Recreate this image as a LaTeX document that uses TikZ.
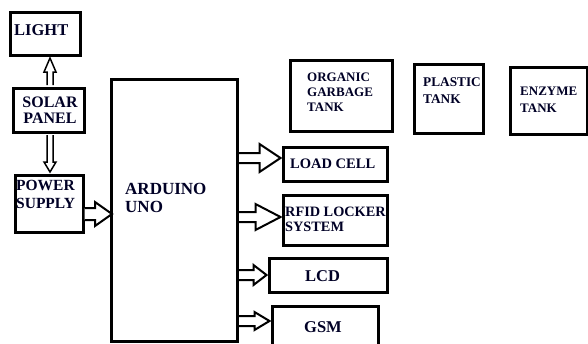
\documentclass[tikz,border=0pt]{standalone}
\usepackage{fontspec}
\setmainfont{Liberation Serif}
\usetikzlibrary{calc}
\tikzset{
  blk/.style={draw=black, line width=3pt, inner sep=0pt, fill=white},
  lbl/.style={font=\bfseries, inner sep=0pt, align=left, text=black!85!blue},
  hol/.style={draw=black, line width=2pt, fill=white, line join=miter},
}
% horizontal hollow arrow: start, tip, shaft half width, head half width, head length
\newcommand\harr[5]{%
  \draw[hol] ($(#1)+(0,-#3)$) -- ($(#2)+(-#5,-#3)$) -- ($(#2)+(-#5,-#4)$) -- (#2)
     -- ($(#2)+(-#5,#4)$) -- ($(#2)+(-#5,#3)$) -- ($(#1)+(0,#3)$);}
% vertical hollow arrow: start, tip, shaft half width, head half width, head length (signed, along direction)
\newcommand\varr[5]{%
  \draw[hol, line width=1.5pt] ($(#1)+(-#3,0)$) -- ($(#2)+(-#3,-#5)$) -- ($(#2)+(-#4,-#5)$) -- (#2)
     -- ($(#2)+(#4,-#5)$) -- ($(#2)+(#3,-#5)$) -- ($(#1)+(#3,0)$);}
\begin{document}
\begin{tikzpicture}[x=1pt,y=-1pt]
\useasboundingbox (0,0) rectangle (588,343);
\clip (0,0) rectangle (588,343);
\fill[white] (0,0) rectangle (588,343);
% boxes
\node[blk, minimum width=70pt, minimum height=43pt] (light) at (45,33.5) {};
\node[blk, minimum width=71pt, minimum height=44pt] (solar) at (48.5,110) {};
\node[blk, minimum width=68pt, minimum height=57pt] (power) at (49,203.5) {};
\node[blk, line width=2pt, minimum width=125pt, minimum height=261pt] (ard) at (174.5,210.5) {};
\node[blk, minimum width=102pt, minimum height=71pt] (org) at (341,96) {};
\node[blk, minimum width=69pt, minimum height=69pt] (pla) at (448.5,98.5) {};
\node[blk, minimum width=77pt, minimum height=67pt] (enz) at (548.5,100.5) {};
\node[blk, minimum width=104pt, minimum height=34pt] (load) at (335,164.5) {};
\node[blk, minimum width=104pt, minimum height=50pt] (rfid) at (335,220) {};
\node[blk, minimum width=118pt, minimum height=34pt] (lcd) at (328,275) {};
\node[blk, minimum width=106pt, minimum height=60pt] (gsm) at (325,336) {};
% labels
\node[lbl, font=\bfseries\fontsize{16.5}{18}\selectfont, anchor=west] (light-t) at (14,30) {LIGHT};
\node[lbl, font=\bfseries\fontsize{16}{16}\selectfont, align=center] (solar-t) at (50,110) {SOLAR\\PANEL};
\node[lbl, font=\bfseries\fontsize{15.5}{18}\selectfont, anchor=north west] (power-t) at (16,180) {POWER\\SUPPLY};
\node[lbl, font=\bfseries\fontsize{17}{18}\selectfont, anchor=north west] (ard-t) at (125,183) {ARDUINO\\UNO};
\node[lbl, font=\bfseries\fontsize{13}{15}\selectfont, anchor=north west] (org-t) at (307,73) {ORGANIC\\GARBAGE\\TANK};
\node[lbl, font=\bfseries\fontsize{13.3}{17}\selectfont, anchor=north west] (pla-t) at (423,77) {PLASTIC\\TANK};
\node[lbl, font=\bfseries\fontsize{13}{17}\selectfont, anchor=north west] (enz-t) at (520,87) {ENZYME\\TANK};
\node[lbl, font=\bfseries\fontsize{14.5}{17}\selectfont, anchor=west] (load-t) at (290,164) {LOAD CELL};
\node[lbl, font=\bfseries\fontsize{14.3}{15}\selectfont, anchor=north west] (rfid-t) at (285,207) {RFID LOCKER\\SYSTEM};
\node[lbl, font=\bfseries\fontsize{16.5}{18}\selectfont] (lcd-t) at (322.5,276) {LCD};
\node[lbl, font=\bfseries\fontsize{16.5}{18}\selectfont] (gsm-t) at (323,327) {GSM};
% connectors
\coordinate (s1) at ($(solar.north)+(1.5,-1.5)$);
\coordinate (t1) at ($(light.south)+(5,1.5)$);
\varr{s1}{t1}{3}{6}{-14}
\coordinate (s2) at ($(solar.south)+(1.5,1.5)$);
\coordinate (t2) at ($(power.north)+(1,-1.5)$);
\varr{s2}{t2}{3}{6}{10}
\coordinate (s3) at ($(power.east)+(0,10.5)$);
\coordinate (t3) at ($(ard.west |- s3)+(1,0)$);
\harr{s3}{t3}{6}{12}{17}
\coordinate (s4) at ($(ard.east)+(0,-52.5)$);
\coordinate (t4) at ($(load.west |- s4)+(-1,0)$);
\harr{s4}{t4}{5}{14}{21}
\coordinate (s5) at ($(ard.east)+(0,6.5)$);
\coordinate (t5) at ($(rfid.west |- s5)+(-1,0)$);
\harr{s5}{t5}{5}{13}{25}
\coordinate (s6) at ($(ard.east)+(0,64.5)$);
\coordinate (t6) at ($(lcd.west |- s6)+(-1,0)$);
\harr{s6}{t6}{5}{10}{13}
\coordinate (s7) at ($(ard.east)+(0,110.5)$);
\coordinate (t7) at ($(gsm.west |- s7)+(-1,0)$);
\harr{s7}{t7}{5}{9}{15}
% redraw arduino border over arrow starts
\draw[line width=2pt] (ard.north west) rectangle (ard.south east);
\end{tikzpicture}
\end{document}
